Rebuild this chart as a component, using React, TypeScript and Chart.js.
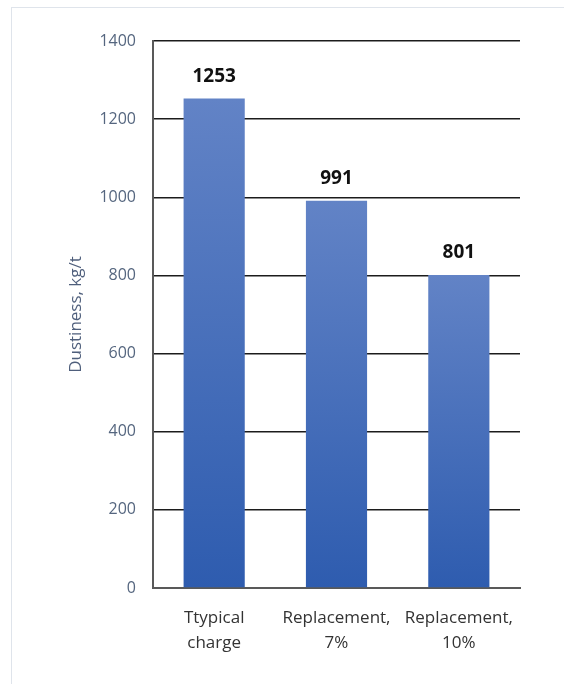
import React, { useEffect, useRef } from "react";
import { Chart, registerables } from "chart.js";

Chart.register(...registerables);

const categories: string[][] = [["Ttypical", "charge"], ["Replacement,", "7%"], ["Replacement,", "10%"]];
const dustiness: number[] = [1253, 991, 801];
const yTicks: number[] = [0, 200, 400, 600, 800, 1000, 1200, 1400];
const yTitle = "Dustiness, kg/t";

const valueLabels = {
  id: "valueLabels",
  afterDatasetsDraw(chart: any) {
    const ctx = chart.ctx;
    const meta = chart.getDatasetMeta(0);
    ctx.save();
    ctx.font = "bold 19px 'Open Sans'";
    ctx.fillStyle = "#111111";
    ctx.textAlign = "center";
    ctx.textBaseline = "middle";
    meta.data.forEach((bar: any, i: number) => {
      ctx.fillText(String(chart.data.datasets[0].data[i]), bar.x, bar.y - 22);
    });
    ctx.restore();
  },
};

export default function App() {
  const ref = useRef<HTMLCanvasElement>(null);
  useEffect(() => {
    if (!ref.current) return;
    const chart = new Chart(ref.current, {
      type: "bar",
      data: {
        labels: categories,
        datasets: [
          {
            data: dustiness,
            backgroundColor: (c: any) => {
              const ch = c.chart;
              const ys = ch.scales && ch.scales.y;
              if (!ys || !ch.chartArea || c.dataIndex === undefined) return "#4a6fba";
              const v = dustiness[c.dataIndex];
              const top = ys.getPixelForValue(v);
              const bottom = ys.getPixelForValue(0);
              if (!isFinite(top) || !isFinite(bottom)) return "#4a6fba";
              const g = ch.ctx.createLinearGradient(0, top, 0, bottom);
              g.addColorStop(0, "#6283c6");
              g.addColorStop(1, "#2e5caf");
              return g;
            },
            borderWidth: 0,
            barPercentage: 1,
            categoryPercentage: 0.5,
          },
        ],
      },
      options: {
        animation: false,
        responsive: false,
        maintainAspectRatio: false,
        layout: { padding: { left: 0, right: 44, top: 41, bottom: 0 } },
        plugins: { legend: { display: false }, tooltip: { enabled: false } },
        scales: {
          x: {
            grid: { display: false, drawTicks: false },
            border: { display: true, color: "#595959", width: 2 },
            ticks: {
              color: "#333333",
              font: { family: "'Open Sans'", size: 17, lineHeight: 1.5 },
              padding: 17,
              maxRotation: 0,
              autoSkip: false,
            },
            afterFit: (s: any) => {
              s.height = 96;
            },
          },
          y: {
            min: 0,
            max: 1400,
            afterBuildTicks: (s: any) => {
              s.ticks = yTicks.map((v) => ({ value: v }));
            },
            grid: { color: "#1c1c1c", lineWidth: 1.5, drawTicks: false },
            border: { display: true, color: "#595959", width: 2 },
            ticks: {
              color: "#55667f",
              font: { family: "'Open Sans'", size: 16 },
              padding: 17,
              callback: (v: any) => String(v),
            },
            title: {
              display: true,
              text: yTitle,
              color: "#4f5f7c",
              font: { family: "'Open Sans'", size: 17 },
              padding: { top: 66, bottom: 0 },
            },
            afterFit: (s: any) => {
              s.width = 153;
            },
          },
        },
      },
      plugins: [valueLabels],
    });
    return () => chart.destroy();
  }, []);
  return (
    <div style={{ position: "fixed", left: 0, top: 0, width: 564, height: 684, background: "#ffffff" }}>
      <div
        style={{
          position: "absolute",
          left: 11,
          top: 7,
          width: 553,
          height: 677,
          borderLeft: "1px solid #dfe4eb",
          borderTop: "1px solid #dfe4eb",
          boxSizing: "border-box",
        }}
      />
      <canvas ref={ref} width={564} height={684} style={{ position: "absolute", left: 0, top: 0, width: 564, height: 684 }} />
    </div>
  );
}
